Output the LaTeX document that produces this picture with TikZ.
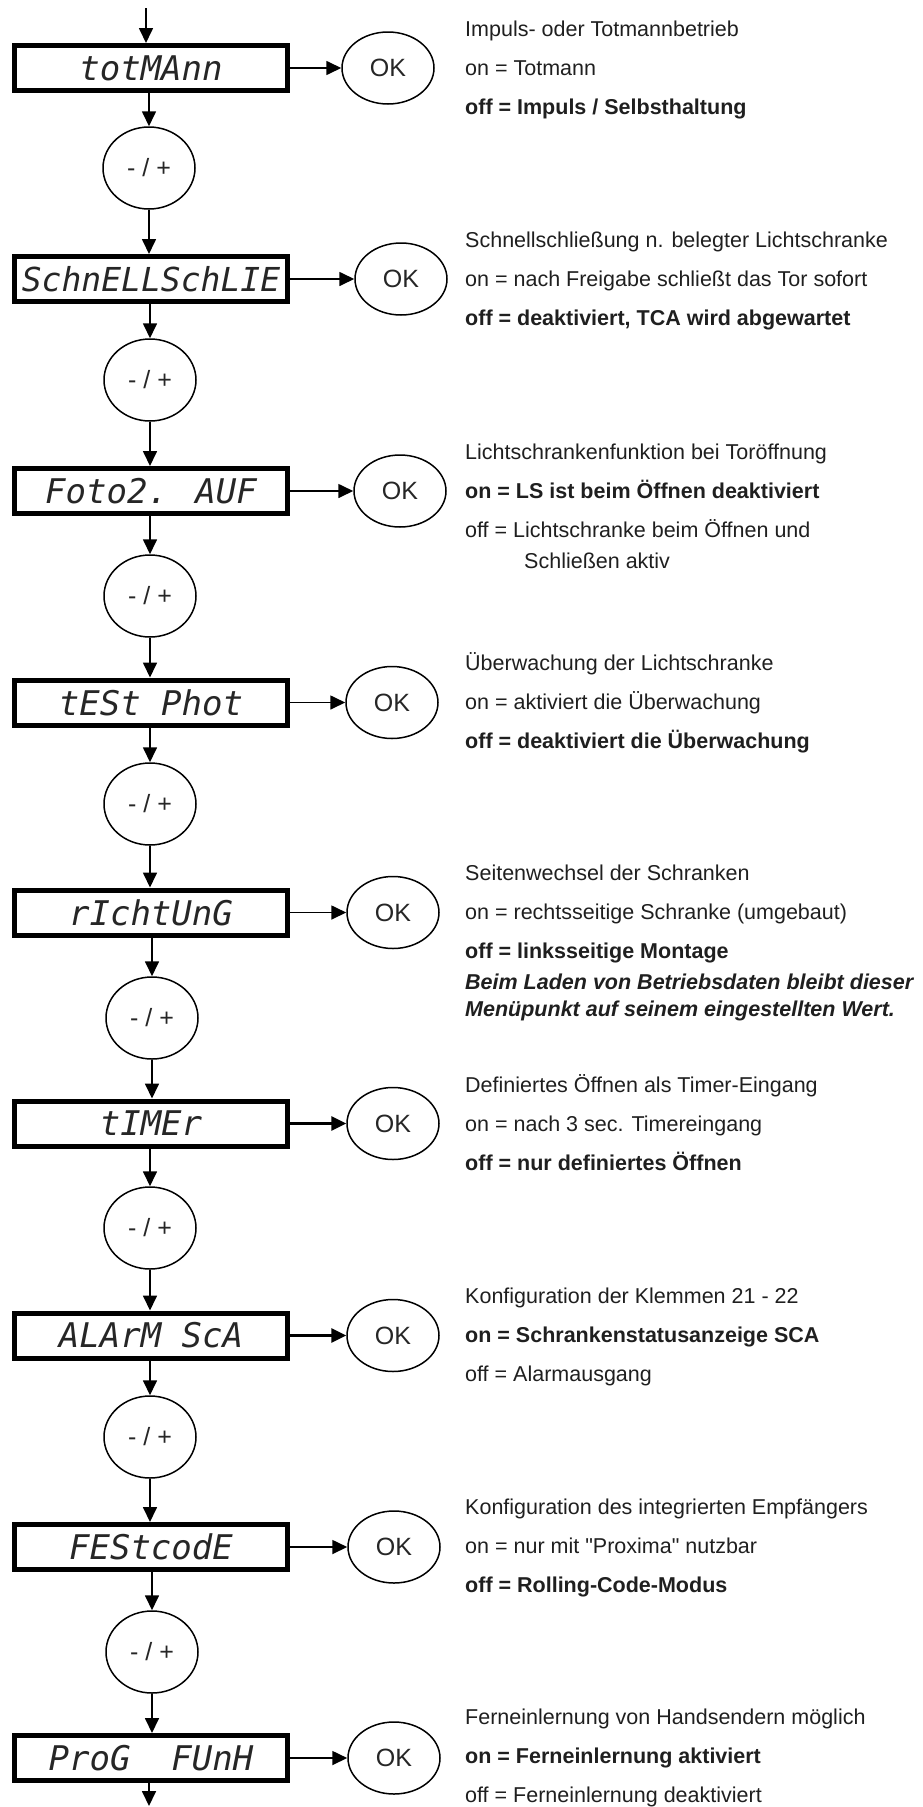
\documentclass[tikz,border=0pt]{standalone}
\usepackage{fontspec}
\setmainfont{Liberation Sans}
\newfontfamily\descfont{Liberation Sans}[Ligatures=ResetAll]
\newfontfamily\lcdfont{DejaVu Sans Mono}
\usetikzlibrary{arrows.meta,shapes.geometric}
\begin{document}
\begin{tikzpicture}[x=1pt,y=-1pt,
  lcd/.style={draw, line width=5pt, minimum width=273pt, minimum height=45pt, inner sep=0pt,
    font={\lcdfont\itshape\fontsize{34}{40}\selectfont}, text=black!85},
  okell/.style={draw, ellipse, line width=1.5pt, minimum width=92pt, minimum height=72pt, inner sep=0pt,
    font={\fontsize{25}{30}\selectfont}, text=black!85},
  pmell/.style={draw, ellipse, line width=1.5pt, minimum width=92pt, minimum height=82pt, inner sep=0pt,
    font={\fontsize{25}{30}\selectfont}, text=black!85},
  desc/.style={anchor=base west, inner sep=0pt, font={\descfont\fontsize{21.5}{25}\selectfont}, text=black!88},
  arr/.style={line width=1.7pt, -{Triangle[length=15pt,width=14pt]}},
  tharr/.style={line width=3pt, -{Triangle[length=15pt,width=14pt]}}
]
\useasboundingbox (0,0) rectangle (922,1807);

% display boxes
\node[lcd] (b1) at (151,68) {totMAnn};
\node[lcd, font={\lcdfont\itshape\fontsize{33}{40}\selectfont}] (b2) at (151,279) {SchnELLSchLIE};
\node[lcd] (b3) at (151,491) {Foto2. AUF};
\node[lcd] (b4) at (151,702.5) {tESt Phot};
\node[lcd] (b5) at (151,912.5) {rIchtUnG};
\node[lcd] (b6) at (151,1123.5) {tIMEr};
\node[lcd] (b7) at (151,1335.5) {ALArM ScA};
\node[lcd] (b8) at (151,1547) {FEStcodE};
\node[lcd] (b9) at (151,1758) {ProG~~FUnH};

% OK ellipses
\node[okell] (o1) at (388,68) {OK};
\node[okell] (o2) at (401,279) {OK};
\node[okell] (o3) at (400,491) {OK};
\node[okell] (o4) at (392,702.5) {OK};
\node[okell] (o5) at (393,912.5) {OK};
\node[okell] (o6) at (393,1123.5) {OK};
\node[okell] (o7) at (393,1335.5) {OK};
\node[okell] (o8) at (394,1547) {OK};
\node[okell] (o9) at (394,1758) {OK};

% -/+ ellipses
\node[pmell] (p1) at (149,168) {- / +};
\node[pmell] (p2) at (150,380) {- / +};
\node[pmell] (p3) at (150,596) {- / +};
\node[pmell] (p4) at (150,804) {- / +};
\node[pmell] (p5) at (152,1018) {- / +};
\node[pmell] (p6) at (150,1228) {- / +};
\node[pmell] (p7) at (150,1437) {- / +};
\node[pmell] (p8) at (152,1652) {- / +};

\coordinate (top) at (146,8);
\coordinate (bot) at (149,1806);

% vertical connectors
\draw[arr] (top) -- (top |- b1.north);
\draw[arr] (b1.south -| p1) -- (p1.north);
\draw[arr] (p1.south) -- (p1.south |- b2.north);
\draw[arr] (b2.south -| p2) -- (p2.north);
\draw[arr] (p2.south) -- (p2.south |- b3.north);
\draw[arr] (b3.south -| p3) -- (p3.north);
\draw[arr] (p3.south) -- (p3.south |- b4.north);
\draw[arr] (b4.south -| p4) -- (p4.north);
\draw[arr] (p4.south) -- (p4.south |- b5.north);
\draw[arr] (b5.south -| p5) -- (p5.north);
\draw[arr] (p5.south) -- (p5.south |- b6.north);
\draw[arr] (b6.south -| p6) -- (p6.north);
\draw[arr] (p6.south) -- (p6.south |- b7.north);
\draw[arr] (b7.south -| p7) -- (p7.north);
\draw[arr] (p7.south) -- (p7.south |- b8.north);
\draw[arr] (b8.south -| p8) -- (p8.north);
\draw[arr] (p8.south) -- (p8.south |- b9.north);
\draw[arr] (b9.south -| bot) -- (bot);

% horizontal connectors
\draw[arr] (b1.east) -- (o1.west);
\draw[arr] (b2.east) -- (o2.west);
\draw[arr] (b3.east) -- (o3.west);
\draw[arr] (b4.east) -- (o4.west);
\draw[arr] (b5.east) -- (o5.west);
\draw[tharr] (b6.east) -- (o6.west);
\draw[tharr] (b7.east) -- (o7.west);
\draw[arr] (b8.east) -- (o8.west);
\draw[arr] (b9.east) -- (o9.west);

% descriptions
\node[desc] (t1a) at (465,36) {Impuls- oder Totmannbetrieb};
\node[desc] (t1b) at (465,75) {on = Totmann};
\node[desc] (t1c) at (465,114) {\bfseries off = Impuls / Selbsthaltung};

\node[desc] (t2a) at (465,247) {Schnellschließung n. belegter Lichtschranke};
\node[desc] (t2b) at (465,286) {on = nach Freigabe schließt das Tor sofort};
\node[desc] (t2c) at (465,325) {\bfseries off = deaktiviert, TCA wird abgewartet};

\node[desc] (t3a) at (465,459) {Lichtschrankenfunktion bei Toröffnung};
\node[desc] (t3b) at (465,498) {\bfseries on = LS ist beim Öffnen deaktiviert};
\node[desc] (t3c) at (465,537) {off = Lichtschranke beim Öffnen und};
\node[desc] (t3d) at (524,568) {Schließen aktiv};

\node[desc] (t4a) at (465,670) {Überwachung der Lichtschranke};
\node[desc] (t4b) at (465,709) {on = aktiviert die Überwachung};
\node[desc] (t4c) at (465,748) {\bfseries off = deaktiviert die Überwachung};

\node[desc] (t5a) at (465,880) {Seitenwechsel der Schranken};
\node[desc] (t5b) at (465,919) {on = rechtsseitige Schranke (umgebaut)};
\node[desc] (t5c) at (465,958) {\bfseries off = linksseitige Montage};
\node[desc] (t5d) at (465,989) {\bfseries\itshape Beim Laden von Betriebsdaten bleibt dieser};
\node[desc] (t5e) at (465,1016) {\bfseries\itshape Menüpunkt auf seinem eingestellten Wert.};

\node[desc] (t6a) at (465,1092) {Definiertes Öffnen als Timer-Eingang};
\node[desc] (t6b) at (465,1131) {on = nach 3 sec. Timereingang};
\node[desc] (t6c) at (465,1170) {\bfseries off = nur definiertes Öffnen};

\node[desc] (t7a) at (465,1303) {Konfiguration der Klemmen 21 - 22};
\node[desc] (t7b) at (465,1342) {\bfseries on = Schrankenstatusanzeige SCA};
\node[desc] (t7c) at (465,1381) {off = Alarmausgang};

\node[desc] (t8a) at (465,1514) {Konfiguration des integrierten Empfängers};
\node[desc] (t8b) at (465,1553) {on = nur mit "Proxima" nutzbar};
\node[desc] (t8c) at (465,1592) {\bfseries off = Rolling-Code-Modus};

\node[desc] (t9a) at (465,1724) {Ferneinlernung von Handsendern möglich};
\node[desc] (t9b) at (465,1763) {\bfseries on = Ferneinlernung aktiviert};
\node[desc] (t9c) at (465,1802) {off = Ferneinlernung deaktiviert};
\end{tikzpicture}
\end{document}
